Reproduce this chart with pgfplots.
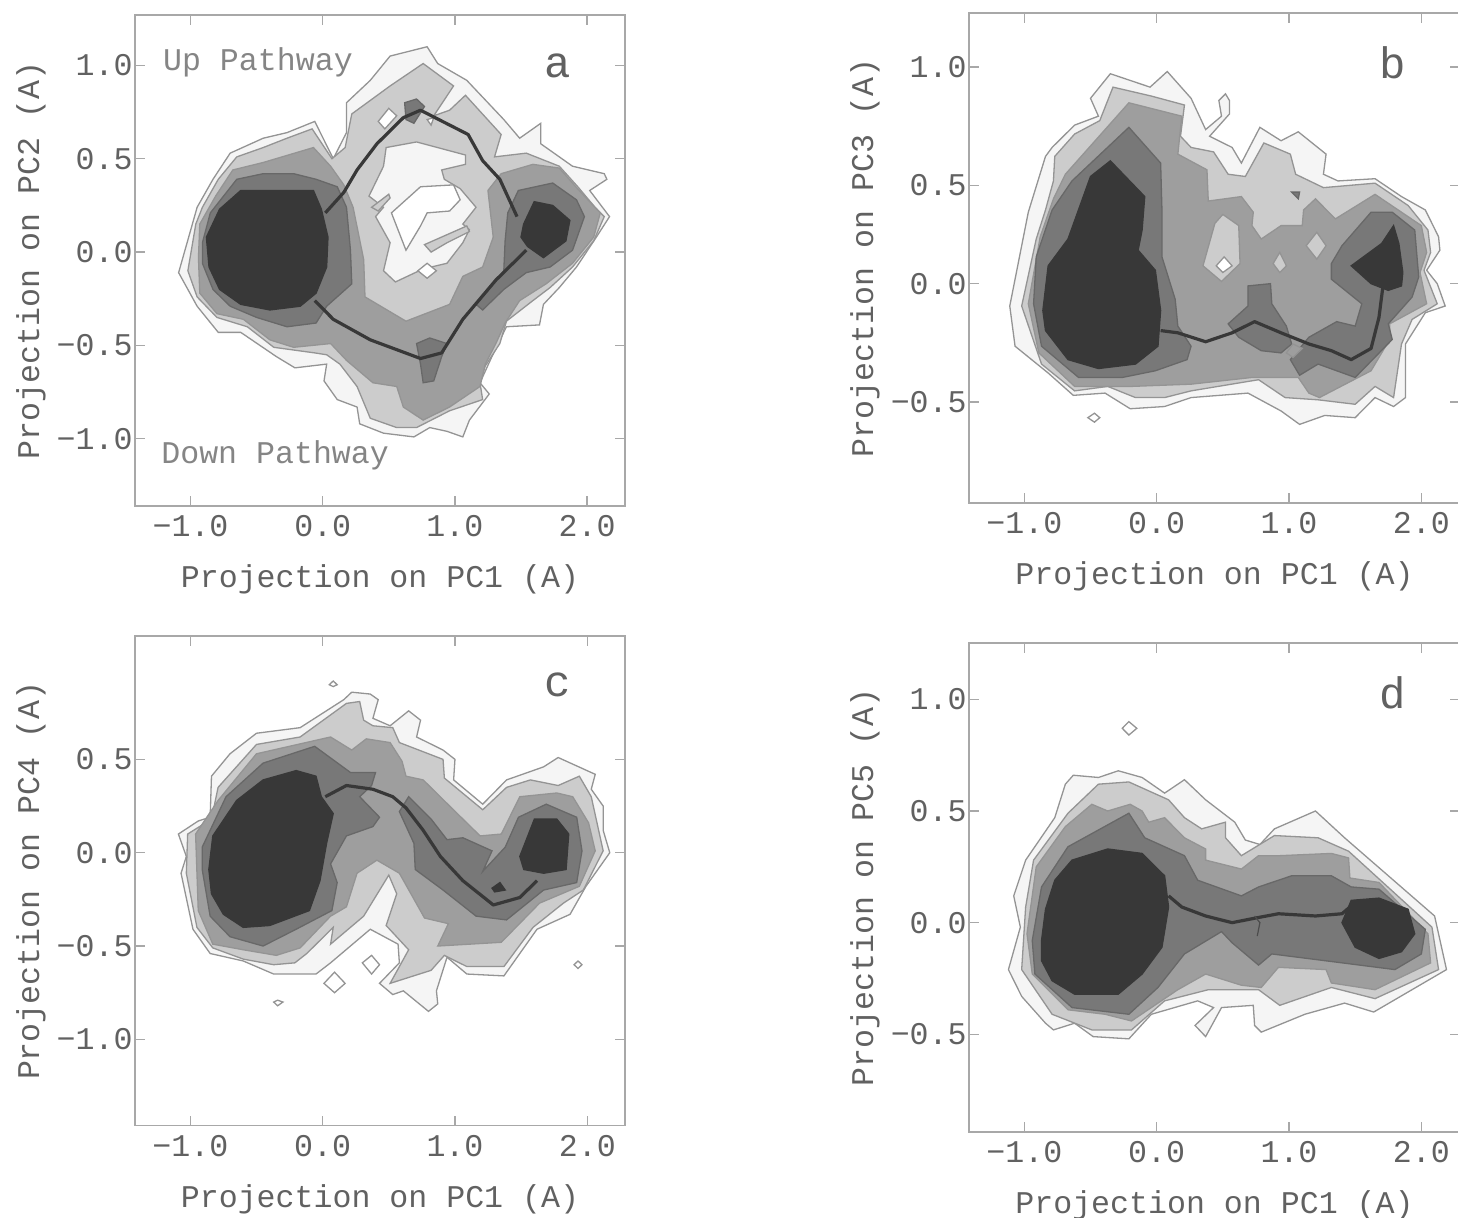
\documentclass[border=0pt]{standalone}
\usepackage{fontspec}
\setmainfont{Liberation Mono}
\usepackage{pgfplots}
\pgfplotsset{compat=1.18}
\definecolor{gA}{gray}{0.96}
\definecolor{gB}{gray}{0.80}
\definecolor{gC}{gray}{0.62}
\definecolor{gD}{gray}{0.47}
\definecolor{gE}{gray}{0.22}
\definecolor{lc}{gray}{0.58}
\definecolor{tc}{gray}{0.38}
\definecolor{ax}{gray}{0.66}
\pgfplotsset{
 panel/.style={scale only axis, anchor=south west, axis line style={ax,line width=0.7pt},
  tick style={ax,line width=0.7pt}, tick align=inside, major tick length=5pt,
  xtick pos=both, ytick pos=both, no markers,
  xtick={-1,0,1,2}, xticklabels={−1.0,0.0,1.0,2.0},
  tick label style={font=\fontsize{15.8}{16}\selectfont, text=tc},
  x tick label style={yshift=-4.5pt, inner sep=0pt, anchor=north},
  y tick label style={xshift=-1pt, inner sep=0pt, anchor=east},
  label style={font=\fontsize{15.8}{16}\selectfont, text=tc},
  xlabel style={yshift=-10.5pt},
  ylabel style={yshift=2pt},
  ticklabel pos=left,
  axis on top},
 a1/.style={fill=gA,draw=lc,line width=0.65pt},
 a2/.style={fill=gB,draw=lc,line width=0.65pt},
 a3/.style={fill=gC,draw=lc,line width=0.65pt},
 a4/.style={fill=gD,draw=lc!70!black,line width=0.65pt},
 a5/.style={fill=gE,draw=gE,line width=0.65pt},
 w0/.style={fill=white,draw=lc,line width=0.65pt},
 dm/.style={fill=white,draw=lc,line width=0.65pt},
 pth/.style={draw=black!78,line width=1.6pt,line join=round},
}
\begin{document}
\begin{tikzpicture}
\useasboundingbox (0,0) rectangle (729pt,608.5pt);
% ---------- a
\begin{axis}[panel, at={(67.5pt,355.5pt)}, width=245pt, height=245.5pt,
 xmin=-1.42, xmax=2.287, ymin=-1.36, ymax=1.27,
 ytick={-1,-0.5,0,0.5,1}, yticklabels={−1.0,−0.5,0.0,0.5,1.0},
 xlabel={Projection on PC1 (A)}, ylabel={Projection on PC2 (A)}]
\addplot[a1] coordinates {(-1.09,-0.11)(-0.99,0.14)(-0.95,0.24)(-0.83,0.39)(-0.70,0.53)(-0.45,0.61)(-0.27,0.64)(-0.06,0.70)(0.08,0.50)(0.18,0.64)(0.18,0.80)(0.36,0.92)(0.51,1.05)(0.79,1.10)(0.87,1.01)(1.09,0.92)(1.21,0.83)(1.37,0.71)(1.49,0.61)(1.65,0.69)(1.65,0.58)(1.89,0.46)(2.13,0.42)(2.15,0.39)(2.02,0.33)(2.17,0.19)(2.07,0.08)(1.92,-0.08)(1.79,-0.19)(1.67,-0.28)(1.64,-0.39)(1.39,-0.40)(1.28,-0.56)(1.19,-0.70)(1.26,-0.76)(1.11,-0.90)(1.06,-0.99)(0.94,-0.96)(0.81,-0.94)(0.69,-0.99)(0.46,-0.97)(0.28,-0.92)(0.26,-0.83)(0.11,-0.79)(0.01,-0.69)(0.03,-0.60)(-0.21,-0.62)(-0.35,-0.56)(-0.62,-0.43)(-0.79,-0.43)(-0.95,-0.29)} --cycle;
\addplot[a2] coordinates {(-1.02,-0.10)(-0.96,0.15)(-0.91,0.24)(-0.79,0.39)(-0.65,0.51)(-0.45,0.56)(-0.27,0.61)(-0.08,0.66)(0.07,0.50)(0.17,0.56)(0.22,0.74)(0.51,0.89)(0.76,1.01)(0.99,0.89)(0.84,0.73)(0.96,0.76)(1.08,0.84)(1.35,0.63)(1.30,0.51)(1.54,0.53)(1.79,0.46)(1.93,0.35)(2.06,0.24)(2.13,0.19)(2.05,0.06)(1.89,-0.08)(1.72,-0.19)(1.59,-0.26)(1.39,-0.37)(1.34,-0.49)(1.23,-0.61)(1.19,-0.70)(1.21,-0.79)(0.96,-0.85)(0.71,-0.94)(0.56,-0.94)(0.36,-0.89)(0.26,-0.72)(0.13,-0.60)(0.03,-0.55)(-0.06,-0.54)(-0.37,-0.51)(-0.57,-0.40)(-0.80,-0.35)(-0.95,-0.24)} --cycle;
\addplot[a3] coordinates {(-0.94,-0.03)(-0.93,0.15)(-0.81,0.30)(-0.68,0.44)(-0.45,0.48)(-0.07,0.56)(0.06,0.46)(0.16,0.36)(0.23,0.24)(0.31,-0.04)(0.32,-0.24)(0.63,-0.37)(0.96,-0.28)(1.06,-0.13)(1.21,-0.08)(1.29,0.08)(1.25,0.33)(1.35,0.42)(1.59,0.47)(1.79,0.45)(1.94,0.33)(2.10,0.21)(2.05,0.08)(1.89,-0.06)(1.69,-0.17)(1.49,-0.26)(1.38,-0.38)(1.31,-0.49)(1.23,-0.60)(1.19,-0.72)(0.96,-0.83)(0.76,-0.90)(0.61,-0.83)(0.56,-0.72)(0.38,-0.70)(0.18,-0.58)(0.06,-0.49)(-0.22,-0.51)(-0.40,-0.47)(-0.60,-0.36)(-0.80,-0.33)(-0.93,-0.22)} --cycle;
\addplot[a4] coordinates {(-0.91,0.05)(-0.85,0.21)(-0.65,0.39)(-0.45,0.42)(-0.22,0.42)(-0.05,0.39)(0.11,0.35)(0.18,0.24)(0.21,0.01)(0.22,-0.17)(0.03,-0.29)(-0.05,-0.38)(-0.27,-0.40)(-0.50,-0.35)(-0.70,-0.29)(-0.83,-0.20)(-0.91,-0.06)} --cycle;
\addplot[a4] coordinates {(0.71,-0.49)(0.81,-0.46)(0.94,-0.49)(0.90,-0.56)(0.84,-0.69)(0.76,-0.70)(0.74,-0.60)} --cycle;
\addplot[a4] coordinates {(1.38,0.06)(1.40,0.21)(1.48,0.33)(1.74,0.37)(1.92,0.28)(1.98,0.19)(1.89,0.01)(1.72,-0.08)(1.54,-0.11)(1.37,-0.20)(1.21,-0.31)(1.16,-0.28)(1.37,-0.10)} --cycle;
\addplot[a4] coordinates {(0.62,0.80)(0.71,0.82)(0.77,0.78)(0.69,0.69)(0.63,0.71)} --cycle;
\addplot[a5] coordinates {(-0.88,0.08)(-0.78,0.23)(-0.62,0.33)(-0.07,0.33)(-0.01,0.23)(0.04,0.08)(0.03,-0.08)(-0.05,-0.22)(-0.17,-0.29)(-0.40,-0.31)(-0.62,-0.28)(-0.78,-0.20)(-0.86,-0.08)} --cycle;
\addplot[a5] coordinates {(1.52,0.15)(1.60,0.27)(1.74,0.25)(1.87,0.17)(1.84,0.06)(1.67,-0.03)(1.55,0.03)(1.50,0.08)} --cycle;
\addplot[a1] coordinates {(0.35,0.30)(0.46,0.46)(0.48,0.56)(0.71,0.59)(1.08,0.52)(1.08,0.47)(0.90,0.44)(0.92,0.39)(1.04,0.34)(1.16,0.24)(1.06,0.15)(1.11,0.12)(1.06,0.05)(0.94,-0.06)(0.76,-0.09)(0.55,-0.16)(0.46,-0.10)(0.51,0.05)(0.40,0.19)(0.46,0.24)} --cycle;
\addplot[w0] coordinates {(0.52,0.21)(0.74,0.35)(0.99,0.36)(1.04,0.28)(0.96,0.22)(0.79,0.21)(0.74,0.14)(0.63,0.01)} --cycle;
\addplot[a2] coordinates {(0.37,0.24)(0.50,0.31)(0.51,0.29)(0.42,0.22)} --cycle;
\addplot[a2] coordinates {(0.77,0.04)(1.09,0.14)(1.11,0.11)(0.94,0.05)(0.82,0.00)} --cycle;
\addplot[w0] coordinates {(0.72,-0.10)(0.79,-0.06)(0.86,-0.10)(0.79,-0.14)} --cycle;
\addplot[w0] coordinates {(0.42,0.70)(0.50,0.77)(0.56,0.73)(0.47,0.66)} --cycle;
\addplot[w0] coordinates {(0.79,0.71)(0.84,0.72)(0.82,0.68)} --cycle;
\addplot[pth] coordinates {(0.02,0.21)(0.16,0.32)(0.26,0.44)(0.41,0.58)(0.61,0.72)(0.74,0.76)(1.10,0.63)(1.21,0.49)(1.34,0.39)(1.47,0.19)};
\addplot[pth] coordinates {(1.54,0.01)(1.31,-0.15)(1.06,-0.36)(0.90,-0.54)(0.74,-0.57)(0.36,-0.47)(0.08,-0.36)(-0.06,-0.26)};
\node[font=\fontsize{15.8}{16}\selectfont,text=black!48] at (axis cs:-0.49,1.018) {Up Pathway};
\node[font=\fontsize{15.8}{16}\selectfont,text=black!48] at (axis cs:-0.36,-1.087) {Down Pathway};
\node[font=\fontsize{22}{24}\selectfont,text=tc] at (axis cs:1.78,1.0) {a};
\end{axis}
% ---------- b
\begin{axis}[panel, at={(484.5pt,357pt)}, width=245.5pt, height=245pt,
 xmin=-1.418, xmax=2.292, ymin=-0.952, ymax=1.242,
 ytick={-0.5,0.03,0.47,1}, yticklabels={−0.5,0.0,0.5,1.0},
 xlabel={Projection on PC1 (A)}, ylabel={Projection on PC3 (A)}]
\addplot[a1] coordinates {(-1.11,-0.07)(-0.97,0.35)(-0.84,0.60)(-0.79,0.64)(-0.62,0.74)(-0.44,0.78)(-0.50,0.86)(-0.35,0.97)(-0.05,0.91)(0.08,0.98)(0.26,0.86)(0.37,0.72)(0.49,0.78)(0.47,0.85)(0.52,0.88)(0.55,0.85)(0.55,0.79)(0.40,0.69)(0.57,0.64)(0.64,0.57)(0.78,0.73)(0.94,0.67)(1.07,0.71)(1.28,0.61)(1.26,0.52)(1.37,0.49)(1.65,0.50)(1.85,0.42)(2.03,0.36)(2.13,0.24)(2.14,0.18)(2.04,0.09)(2.12,0.03)(2.18,-0.07)(2.03,-0.10)(1.88,-0.24)(1.88,-0.48)(1.79,-0.52)(1.65,-0.48)(1.50,-0.57)(1.27,-0.56)(1.08,-0.60)(0.94,-0.54)(0.69,-0.46)(0.26,-0.48)(0.06,-0.52)(-0.20,-0.53)(-0.39,-0.46)(-0.63,-0.47)(-0.82,-0.37)(-1.07,-0.25)} --cycle;
\addplot[a2] coordinates {(-1.02,-0.07)(-0.91,0.23)(-0.84,0.36)(-0.78,0.49)(-0.77,0.60)(-0.62,0.70)(-0.43,0.76)(-0.33,0.91)(-0.04,0.87)(0.21,0.83)(0.18,0.69)(0.26,0.64)(0.43,0.62)(0.54,0.52)(0.67,0.51)(0.81,0.66)(1.01,0.61)(1.05,0.52)(1.26,0.46)(1.65,0.48)(1.90,0.38)(2.05,0.27)(2.07,0.17)(2.02,0.09)(2.12,-0.06)(1.93,-0.13)(1.85,-0.24)(1.79,-0.48)(1.65,-0.43)(1.50,-0.51)(1.22,-0.49)(0.97,-0.48)(0.77,-0.40)(0.26,-0.45)(0.06,-0.48)(-0.16,-0.48)(-0.37,-0.43)(-0.62,-0.45)(-0.87,-0.33)} --cycle;
\addplot[a3] coordinates {(-0.97,-0.06)(-0.88,0.24)(-0.78,0.41)(-0.69,0.52)(-0.21,0.84)(0.19,0.78)(0.16,0.61)(0.38,0.54)(0.39,0.40)(0.64,0.42)(0.73,0.35)(0.72,0.29)(0.79,0.23)(0.94,0.29)(1.10,0.29)(1.11,0.36)(1.20,0.41)(1.35,0.32)(1.65,0.43)(2.00,0.29)(2.04,0.17)(1.99,0.08)(2.04,-0.06)(1.76,-0.15)(1.76,-0.22)(1.62,-0.36)(1.23,-0.48)(1.15,-0.46)(1.07,-0.39)(0.72,-0.39)(0.26,-0.42)(-0.19,-0.43)(-0.62,-0.43)(-0.89,-0.28)} --cycle;
\addplot[a4] coordinates {(-0.93,-0.06)(-0.91,0.15)(-0.79,0.36)(-0.64,0.49)(-0.21,0.73)(0.03,0.57)(0.04,0.36)(0.04,0.15)(0.14,-0.04)(0.16,-0.16)(0.26,-0.25)(0.23,-0.31)(-0.01,-0.36)(-0.26,-0.39)(-0.59,-0.39)(-0.87,-0.25)} --cycle;
\addplot[a4] coordinates {(0.54,-0.15)(0.69,-0.07)(0.69,0.02)(0.86,0.03)(0.87,-0.06)(0.98,-0.16)(1.02,-0.24)(0.94,-0.28)(0.79,-0.27)(0.62,-0.21)} --cycle;
\addplot[a4] coordinates {(1.01,-0.31)(1.15,-0.21)(1.36,-0.14)(1.50,-0.16)(1.55,-0.06)(1.32,0.05)(1.32,0.12)(1.40,0.20)(1.62,0.35)(1.78,0.35)(1.95,0.27)(1.98,0.06)(1.93,-0.03)(1.75,-0.15)(1.78,-0.22)(1.50,-0.39)(1.22,-0.33)(1.08,-0.38)} --cycle;
\addplot[a3] coordinates {(0.98,-0.28)(1.03,-0.24)(1.10,-0.26)(1.03,-0.30)} --cycle;
\addplot[a5] coordinates {(-0.86,-0.09)(-0.82,0.11)(-0.67,0.23)(-0.50,0.51)(-0.35,0.58)(-0.09,0.42)(-0.11,0.27)(-0.14,0.18)(-0.01,0.09)(0.03,-0.09)(0.01,-0.25)(-0.16,-0.33)(-0.44,-0.35)(-0.67,-0.31)(-0.84,-0.18)} --cycle;
\addplot[a5] coordinates {(1.47,0.11)(1.70,0.21)(1.79,0.29)(1.83,0.21)(1.86,0.08)(1.85,0.02)(1.75,0.00)(1.62,0.03)} --cycle;
\addplot[a2] coordinates {(0.35,0.11)(0.44,0.30)(0.50,0.34)(0.62,0.29)(0.63,0.12)(0.49,0.04)} --cycle;
\addplot[w0] coordinates {(0.45,0.11)(0.51,0.15)(0.57,0.11)(0.50,0.08)} --cycle;
\addplot[a2] coordinates {(0.88,0.12)(0.93,0.17)(0.98,0.11)(0.93,0.08)} --cycle;
\addplot[a2] coordinates {(1.13,0.20)(1.21,0.26)(1.28,0.20)(1.21,0.14)} --cycle;
\addplot[a4] coordinates {(1.02,0.44)(1.08,0.44)(1.07,0.41)} --cycle;
\addplot[dm] coordinates {(-0.52,-0.57)(-0.47,-0.55)(-0.43,-0.57)(-0.47,-0.59)} --cycle;
\addplot[pth] coordinates {(0.03,-0.18)(0.16,-0.19)(0.37,-0.23)(0.57,-0.19)(0.74,-0.14)(0.94,-0.19)(1.15,-0.24)(1.32,-0.27)(1.47,-0.31)(1.62,-0.26)(1.68,-0.12)(1.71,0.02)};
\node[font=\fontsize{22}{24}\selectfont,text=tc] at (axis cs:1.78,1.02) {b};
\end{axis}
% ---------- c
\begin{axis}[panel, at={(67.5pt,45.65pt)}, width=245pt, height=244.85pt,
 xmin=-1.418, xmax=2.285, ymin=-1.4625, ymax=1.161,
 ytick={-1,-0.5,0,0.5}, yticklabels={−1.0,−0.5,0.0,0.5},
 xlabel={Projection on PC1 (A)}, ylabel={Projection on PC4 (A)}]
\addplot[a1] coordinates {(-1.09,0.10)(-0.94,0.17)(-0.85,0.19)(-0.84,0.41)(-0.70,0.53)(-0.50,0.64)(-0.17,0.67)(0.16,0.82)(0.22,0.86)(0.36,0.85)(0.42,0.82)(0.38,0.72)(0.51,0.68)(0.65,0.76)(0.74,0.71)(0.71,0.62)(0.91,0.55)(1.00,0.50)(0.99,0.39)(1.21,0.26)(1.39,0.39)(1.67,0.46)(1.78,0.51)(2.06,0.42)(2.03,0.34)(2.12,0.25)(2.12,0.12)(2.17,0.00)(1.99,-0.18)(1.87,-0.33)(1.62,-0.41)(1.49,-0.54)(1.37,-0.66)(1.09,-0.65)(0.94,-0.56)(0.86,-0.74)(0.87,-0.81)(0.80,-0.85)(0.61,-0.74)(0.53,-0.76)(0.43,-0.70)(0.58,-0.59)(0.57,-0.49)(0.36,-0.41)(0.21,-0.50)(0.06,-0.59)(-0.05,-0.65)(-0.37,-0.65)(-0.60,-0.58)(-0.85,-0.54)(-0.98,-0.41)(-1.07,-0.11)(-1.03,-0.02)} --cycle;
\addplot[a2] coordinates {(-1.02,0.10)(-0.84,0.18)(-0.79,0.35)(-0.50,0.58)(-0.17,0.62)(0.18,0.80)(0.28,0.81)(0.31,0.71)(0.38,0.68)(0.53,0.67)(0.58,0.59)(0.91,0.50)(0.92,0.40)(1.21,0.23)(1.39,0.35)(1.57,0.39)(1.78,0.36)(1.94,0.41)(2.03,0.30)(2.12,0.01)(1.97,-0.20)(1.82,-0.27)(1.59,-0.40)(1.37,-0.61)(1.09,-0.61)(0.92,-0.55)(0.82,-0.63)(0.51,-0.70)(0.65,-0.52)(0.48,-0.39)(0.56,-0.22)(0.50,-0.12)(0.31,-0.34)(0.06,-0.49)(0.08,-0.40)(-0.12,-0.54)(-0.21,-0.59)(-0.37,-0.60)(-0.60,-0.57)(-0.83,-0.51)(-0.95,-0.40)(-1.03,-0.11)} --cycle;
\addplot[a3] coordinates {(-0.96,0.10)(-0.79,0.28)(-0.50,0.53)(0.06,0.62)(0.22,0.55)(0.33,0.61)(0.51,0.59)(0.60,0.49)(0.63,0.41)(0.76,0.39)(0.96,0.25)(1.19,0.09)(1.35,0.10)(1.49,0.30)(1.77,0.32)(1.89,0.30)(2.01,0.16)(2.06,0.01)(1.94,-0.18)(1.64,-0.27)(1.35,-0.48)(1.11,-0.49)(0.87,-0.50)(0.95,-0.38)(0.77,-0.35)(0.58,-0.11)(0.41,-0.04)(0.26,-0.11)(0.18,-0.29)(0.06,-0.34)(-0.17,-0.51)(-0.35,-0.55)(-0.60,-0.52)(-0.83,-0.49)(-0.94,-0.31)} --cycle;
\addplot[a4] coordinates {(-0.91,0.03)(-0.73,0.30)(-0.45,0.48)(-0.06,0.57)(0.21,0.43)(0.40,0.43)(0.37,0.36)(0.28,0.30)(0.43,0.19)(0.38,0.14)(0.18,0.09)(0.06,-0.06)(0.11,-0.16)(0.07,-0.31)(-0.20,-0.41)(-0.45,-0.50)(-0.70,-0.45)(-0.85,-0.34)(-0.91,-0.09)} --cycle;
\addplot[a4] coordinates {(0.58,0.22)(0.65,0.30)(0.82,0.18)(0.94,0.07)(1.06,0.08)(1.28,0.01)(1.21,-0.10)(1.38,0.03)(1.48,0.19)(1.69,0.26)(1.92,0.19)(1.96,0.01)(1.92,-0.16)(1.67,-0.20)(1.39,-0.36)(1.16,-0.34)(0.91,-0.20)(0.70,-0.09)(0.69,0.05)} --cycle;
\addplot[a5] coordinates {(-0.86,-0.09)(-0.83,0.09)(-0.65,0.28)(-0.45,0.39)(-0.20,0.44)(-0.05,0.41)(-0.01,0.30)(0.08,0.21)(0.03,0.05)(-0.02,-0.15)(-0.10,-0.31)(-0.40,-0.39)(-0.60,-0.40)(-0.75,-0.33)(-0.84,-0.22)} --cycle;
\addplot[a5] coordinates {(1.49,-0.02)(1.60,0.18)(1.77,0.18)(1.86,0.10)(1.84,-0.09)(1.67,-0.11)(1.52,-0.09)} --cycle;
\addplot[a5] coordinates {(1.28,-0.19)(1.34,-0.16)(1.38,-0.20)(1.30,-0.21)} --cycle;
\addplot[dm] coordinates {(0.05,0.90)(0.08,0.92)(0.11,0.90)(0.08,0.89)} --cycle;
\addplot[dm] coordinates {(1.90,-0.60)(1.93,-0.58)(1.96,-0.60)(1.93,-0.62)} --cycle;
\addplot[dm] coordinates {(-0.37,-0.80)(-0.34,-0.79)(-0.30,-0.80)(-0.34,-0.82)} --cycle;
\addplot[dm] coordinates {(0.01,-0.70)(0.09,-0.64)(0.17,-0.70)(0.09,-0.75)} --cycle;
\addplot[dm] coordinates {(0.30,-0.59)(0.37,-0.55)(0.43,-0.60)(0.37,-0.65)} --cycle;
\addplot[pth] coordinates {(0.02,0.30)(0.18,0.36)(0.38,0.34)(0.53,0.30)(0.63,0.24)(0.76,0.12)(0.89,-0.02)(1.06,-0.15)(1.29,-0.28)(1.49,-0.24)(1.62,-0.15)};
\node[font=\fontsize{22}{24}\selectfont,text=tc] at (axis cs:1.78,0.90) {c};
\end{axis}
% ---------- d
\begin{axis}[panel, at={(484.5pt,42.5pt)}, width=245.5pt, height=244.5pt,
 xmin=-1.418, xmax=2.292, ymin=-0.937, ymax=1.252,
 ytick={-0.5,0,0.5,1}, yticklabels={−0.5,0.0,0.5,1.0},
 xlabel={Projection on PC1 (A)}, ylabel={Projection on PC5 (A)}]
\addplot[a1] coordinates {(-1.12,-0.21)(-1.03,-0.02)(-1.08,0.12)(-0.99,0.28)(-0.77,0.47)(-0.69,0.62)(-0.63,0.66)(-0.44,0.65)(-0.29,0.68)(-0.11,0.65)(0.06,0.58)(0.21,0.64)(0.37,0.55)(0.59,0.45)(0.67,0.37)(0.78,0.35)(0.89,0.42)(1.20,0.50)(1.42,0.38)(2.10,0.03)(2.19,-0.21)(1.64,-0.40)(1.42,-0.36)(1.12,-0.41)(0.79,-0.49)(0.74,-0.46)(0.73,-0.37)(0.49,-0.38)(0.37,-0.51)(0.29,-0.46)(0.43,-0.38)(0.31,-0.35)(-0.04,-0.41)(-0.21,-0.52)(-0.48,-0.51)(-0.62,-0.45)(-0.78,-0.48)(-0.84,-0.45)(-1.02,-0.33)} --cycle;
\addplot[a2] coordinates {(-1.02,-0.21)(-0.99,0.07)(-0.93,0.28)(-0.67,0.49)(-0.44,0.62)(-0.21,0.63)(0.09,0.55)(0.21,0.47)(0.34,0.42)(0.52,0.45)(0.52,0.38)(0.64,0.30)(0.89,0.39)(1.22,0.38)(1.45,0.32)(2.08,-0.02)(2.13,-0.21)(1.65,-0.34)(1.32,-0.29)(0.93,-0.37)(0.77,-0.30)(0.39,-0.30)(0.06,-0.35)(-0.19,-0.48)(-0.49,-0.48)(-0.79,-0.41)} --cycle;
\addplot[a3] coordinates {(-0.98,-0.05)(-0.91,0.25)(-0.69,0.43)(-0.49,0.53)(-0.37,0.50)(-0.20,0.53)(-0.11,0.50)(-0.06,0.45)(0.06,0.47)(0.21,0.38)(0.37,0.33)(0.37,0.28)(0.64,0.24)(0.77,0.30)(0.93,0.30)(1.32,0.31)(1.45,0.29)(1.46,0.20)(1.68,0.18)(2.05,-0.05)(2.07,-0.18)(1.65,-0.30)(1.32,-0.27)(1.28,-0.21)(0.92,-0.20)(0.79,-0.29)(0.64,-0.28)(0.37,-0.23)(0.16,-0.30)(-0.19,-0.44)(-0.39,-0.41)(-0.67,-0.39)(-0.94,-0.23)} --cycle;
\addplot[a4] coordinates {(-0.94,-0.08)(-0.87,0.16)(-0.67,0.34)(-0.21,0.49)(-0.09,0.38)(0.21,0.30)(0.31,0.19)(0.64,0.12)(0.77,0.16)(1.02,0.21)(1.32,0.21)(1.47,0.16)(1.68,0.15)(2.03,-0.03)(2.00,-0.14)(1.80,-0.21)(1.27,-0.17)(0.87,-0.14)(0.77,-0.19)(0.57,-0.09)(0.49,-0.04)(0.21,-0.14)(0.01,-0.29)(-0.21,-0.41)(-0.64,-0.38)(-0.92,-0.23)} --cycle;
\addplot[a5] coordinates {(-0.87,-0.08)(-0.84,0.06)(-0.77,0.19)(-0.64,0.28)(-0.37,0.33)(-0.11,0.31)(0.06,0.21)(0.09,0.07)(0.04,-0.11)(-0.11,-0.23)(-0.29,-0.32)(-0.62,-0.32)(-0.79,-0.26)(-0.87,-0.17)} --cycle;
\addplot[a5] coordinates {(1.40,0.00)(1.47,0.10)(1.68,0.11)(1.90,0.06)(1.95,-0.05)(1.85,-0.13)(1.68,-0.16)(1.50,-0.11)} --cycle;
\addplot[dm] coordinates {(-0.26,0.87)(-0.21,0.90)(-0.15,0.87)(-0.21,0.84)} --cycle;
\addplot[pth] coordinates {(0.09,0.12)(0.19,0.07)(0.37,0.03)(0.57,0.00)(0.74,0.02)(0.92,0.04)(1.20,0.03)(1.40,0.04)(1.46,0.07)};
\addplot[draw=black!70,line width=0.6pt] coordinates {(0.74,0.03)(0.78,0.00)(0.76,-0.06)};
\node[font=\fontsize{22}{24}\selectfont,text=tc] at (axis cs:1.78,1.03) {d};
\end{axis}
\end{tikzpicture}
\end{document}
